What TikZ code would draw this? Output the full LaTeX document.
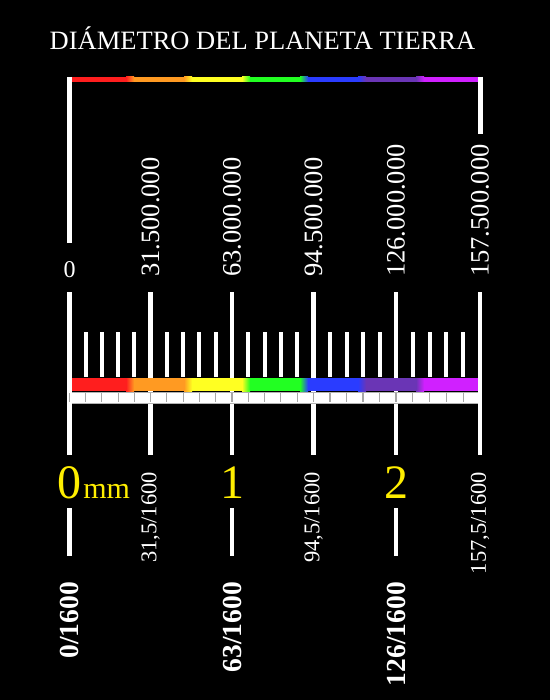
\documentclass[tikz,border=0pt]{standalone}
\usepackage{fontspec}
\setmainfont{Liberation Serif}
\definecolor{cA}{HTML}{FF1E1E}
\definecolor{cB}{HTML}{FF9A22}
\definecolor{cC}{HTML}{FFFF22}
\definecolor{cD}{HTML}{22FF22}
\definecolor{cE}{HTML}{2A3CFF}
\definecolor{cF}{HTML}{6A35B5}
\definecolor{cG}{HTML}{D020FF}
\definecolor{yel}{HTML}{FFEE00}
\tikzset{
  majortick/.style={draw=white,line width=4.5pt,line cap=butt},
  minortick/.style={draw=white,line width=4pt,line cap=butt},
  sep/.style={draw=gray!70,line width=1.1pt},
  titletext/.style={text=white,inner sep=0pt,font=\fontsize{26.5}{26.5}\selectfont},
  toplab/.style={text=white,inner sep=0pt,rotate=90,anchor=west,font=\fontsize{26.5}{26.5}\selectfont},
  zerolab/.style={text=white,inner sep=0pt,font=\fontsize{24}{24}\selectfont},
  yellab/.style={text=yel,inner sep=0pt,anchor=base,font=\fontsize{48}{48}\selectfont},
  mmlab/.style={text=yel,inner sep=0pt,anchor=base west,font=\fontsize{30}{30}\selectfont},
  fraca/.style={text=white,inner sep=0pt,rotate=90,anchor=east,font=\fontsize{22.5}{22.5}\selectfont},
  fracb/.style={text=white,inner sep=0pt,rotate=90,anchor=east,font=\bfseries\fontsize{27.5}{27.5}\selectfont},
}
\begin{document}
\begin{tikzpicture}[x=1pt,y=-1pt]
\fill[black] (0,0) rectangle (550,700);
\useasboundingbox (0,0) rectangle (550,700);
% title
\node[titletext,anchor=base] (title) at (262.5,50) {DIÁMETRO DEL PLANETA TIERRA};
% top rainbow bar
\foreach \c [count=\i from 0] in {cA,cB,cC,cD,cE,cF,cG}{
  \fill[\c] ({72+58*\i},77) rectangle ({72+58*(\i+1)},82);
}
\foreach \ca/\cb [count=\i from 1] in {cA/cB,cB/cC,cC/cD,cD/cE,cE/cF,cF/cG}{
  \shade[left color=\ca,right color=\cb] ({72+58*\i-4},77) rectangle ({72+58*\i+4},82);
}
% bracket verticals
\coordinate (tl) at (69.5,77);
\coordinate (tlb) at (69.5,243);
\coordinate (tr) at (480.5,77);
\coordinate (trb) at (480.5,134);
\draw[majortick] (tl) -- (tlb);
\draw[majortick] (tr) -- (trb);
% top labels
\node[zerolab] (z0) at (69.5,270) {0};
\node[toplab] (t1) at (150.5,277) {31.500.000};
\node[toplab] (t2) at (232,277) {63.000.000};
\node[toplab] (t3) at (313.5,277) {94.500.000};
\node[toplab] (t4) at (396,277) {126.000.000};
\node[toplab] (t5) at (480,277) {157.500.000};
% major ticks (upper+through)
\foreach \x in {69.5,150.5,232,313.5,396,480}{
  \draw[majortick] (\x,292) -- (\x,455);
}
% minor ticks
\foreach \xa/\xb in {69.5/150.5,150.5/232,232/313.5,313.5/396,396/480}{
  \foreach \j in {1,2,3,4}{
    \draw[minortick] ({\xa+(\xb-\xa)*\j/5},332) -- ({\xa+(\xb-\xa)*\j/5},377);
  }
}
% ruler rainbow bar over inner major ticks
\foreach \c [count=\i from 0] in {cA,cB,cC,cD,cE,cF,cG}{
  \fill[\c] ({72+58*\i},378) rectangle ({72+58*(\i+1)},391);
}
\foreach \ca/\cb [count=\i from 1] in {cA/cB,cB/cC,cC/cD,cD/cE,cE/cF,cF/cG}{
  \shade[left color=\ca,right color=\cb] ({72+58*\i-4},378) rectangle ({72+58*\i+4},391);
}
% white strip with separators
\fill[white] (72,392) rectangle (478,403);
\foreach \xa/\xb in {69.5/150.5,150.5/232,232/313.5,313.5/396,396/480}{
  \foreach \j in {0,1,2,3,4}{
    \draw[sep] ({\xa+(\xb-\xa)*\j/5},393) -- ({\xa+(\xb-\xa)*\j/5},402);
  }
}
\draw[gray!60,line width=0.6pt] (72,392) -- (478,392);
\draw[gray!60,line width=0.6pt] (72,403) -- (478,403);
% lower ticks
\foreach \x in {69.5,232,396}{
  \draw[majortick] (\x,508) -- (\x,556);
}
% yellow numbers
\node[yellab] (y0) at (69,498) {0};
\node[mmlab] (mm) at ([xshift=2pt]y0.base east) {mm};
\node[yellab] (y1) at (232.5,498) {1};
\node[yellab] (y2) at (396.5,498) {2};
% fractions
\node[fraca] (f1) at (150.5,472) {31,5/1600};
\node[fraca] (f3) at (313.5,472) {94,5/1600};
\node[fraca] (f5) at (480,472) {157,5/1600};
\node[fracb] (g0) at (69.5,582) {0/1600};
\node[fracb] (g2) at (232,582) {63/1600};
\node[fracb] (g4) at (396,582) {126/1600};
\end{tikzpicture}
\end{document}
